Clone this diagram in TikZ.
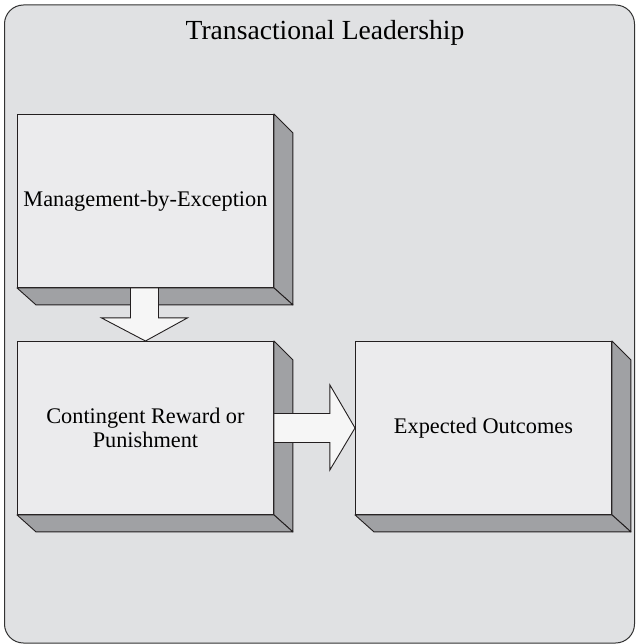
\documentclass[tikz,border=0pt]{standalone}
\usepackage{fontspec}
\setmainfont{Liberation Serif}
\usetikzlibrary{calc}
\definecolor{bg}{HTML}{E0E1E3}
\definecolor{front}{HTML}{EBEBED}
\definecolor{side}{HTML}{A0A1A4}
\definecolor{arrowfill}{HTML}{F6F6F6}
\definecolor{edge}{HTML}{231F20}
\begin{document}
\begin{tikzpicture}[x=1pt,y=-1pt,
  frontbox/.style={draw=edge, fill=front, line width=0.9pt, minimum width=256pt, minimum height=173pt, inner sep=0pt, align=center, font=\fontsize{22.3}{23.5}\selectfont, anchor=north west},
  sideface/.style={draw=edge, fill=side, line width=0.9pt, line join=round},
  blockarrow/.style={draw=edge, fill=arrowfill, line width=0.9pt, line join=miter},
  outer/.style={draw=black!80, fill=bg, line width=1pt, rounded corners=19pt}
]
\useasboundingbox (0,0) rectangle (636,644);
\draw[outer] (4.5,5) rectangle (634.5,643);
\node[font=\fontsize{27.6}{32}\selectfont] (title) at (325,33) {Transactional Leadership};

% boxes
\node[frontbox] (m) at (17,114) {Management-by-Exception};
\node[frontbox] (c) at (17,341) {Contingent Reward or\\Punishment};
\node[frontbox] (e) at (355,341) {Expected Outcomes};

\foreach \b in {m,c,e}{
  \draw[sideface] (\b.north east) -- ++(19,19) -- ($(\b.south east)+(19,17)$) -- (\b.south east) -- cycle;
  \draw[sideface] (\b.south west) -- (\b.south east) -- ($(\b.south east)+(19,17)$) -- ($(\b.south west)+(19,17)$) -- cycle;
}

% arrows
\draw[blockarrow] ($(m.south)+(-15,0)$) -- ($(m.south)+(-15,30)$) -- ($(m.south)+(-44,30)$) -- (c.north) -- ($(m.south)+(42,30)$) -- ($(m.south)+(13,30)$) -- ($(m.south)+(13,0)$) -- cycle;
\draw[blockarrow] ($(c.east)+(0,-14.5)$) -- ($(c.east)+(56,-14.5)$) -- ($(c.east)+(56,-43)$) -- (e.west) -- ($(c.east)+(56,42)$) -- ($(c.east)+(56,14.5)$) -- ($(c.east)+(0,14.5)$) -- cycle;
\end{tikzpicture}
\end{document}
